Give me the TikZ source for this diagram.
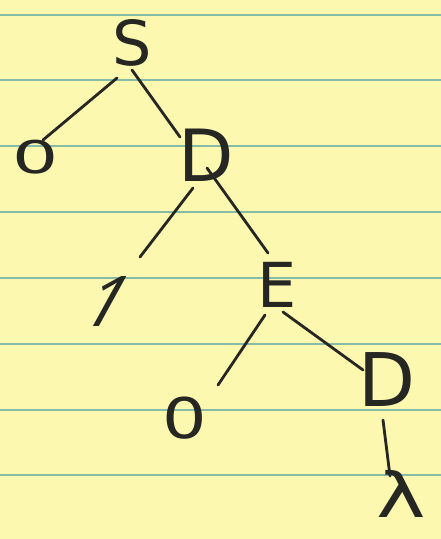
\documentclass[tikz,border=0pt]{standalone}
\usepackage{fontspec}
\setmainfont{DejaVu Sans}
\newfontfamily\onefont{Noto Sans}
\definecolor{paper}{HTML}{FCF8B0}
\definecolor{rule}{HTML}{86BBA6}
\definecolor{ink}{HTML}{262622}
\begin{document}
\begin{tikzpicture}[x=1pt,y=-1pt,
  sym/.style={inner sep=0pt,text=ink},
  edge/.style={draw=ink,line width=2.8pt,line cap=round},
  paperline/.style={draw=rule,line width=2pt}]
\fill[paper] (0,0) rectangle (441,539);
\useasboundingbox (0,0) rectangle (441,539);
\foreach \yy in {14.5,80,146,212,278,344,410,475}
  \draw[paperline] (0,\yy) -- (441,\yy);
% nodes
\node[sym,font=\fontsize{62}{62}\selectfont] (S) at (132,43) {S};
\node[sym,font=\fontsize{50}{50}\selectfont,xscale=1.45,yscale=0.9] (o1) at (36,157) {0};
\node[sym,font=\fontsize{72}{72}\selectfont] (D1) at (206,155) {D};
\node[sym,xslant=0.55] (one) at (108,302) {\onefont\fontsize{70}{70}\selectfont 1};
\node[sym,font=\fontsize{62}{62}\selectfont] (E) at (277,285) {E};
\node[sym,font=\fontsize{56}{56}\selectfont,xscale=1.25] (o2) at (185,418) {0};
\node[sym,font=\fontsize{74}{74}\selectfont] (D2) at (387,380) {D};
\node[sym,font=\fontsize{62}{62}\selectfont,xscale=1.35] (lam) at (401,494) {λ};
% edges
\draw[edge] ([shift={(-15,35)}]S.center) -- ([shift={(7,-17)}]o1.center);
\draw[edge] ([shift={(0,27)}]S.center) -- ([shift={(-26,-18)}]D1.center);
\draw[edge] ([shift={(-13,33)}]D1.center) -- ([shift={(32,-45)}]one.center);
\draw[edge] ([shift={(1,13)}]D1.center) -- ([shift={(-9,-32)}]E.center);
\draw[edge] ([shift={(-12,30)}]E.center) -- ([shift={(33,-33)}]o2.center);
\draw[edge] ([shift={(6,27)}]E.center) -- ([shift={(-24,-10)}]D2.center);
\draw[edge] ([shift={(-4,40)}]D2.center) -- ([shift={(-11,-18)}]lam.center);
\end{tikzpicture}
\end{document}
